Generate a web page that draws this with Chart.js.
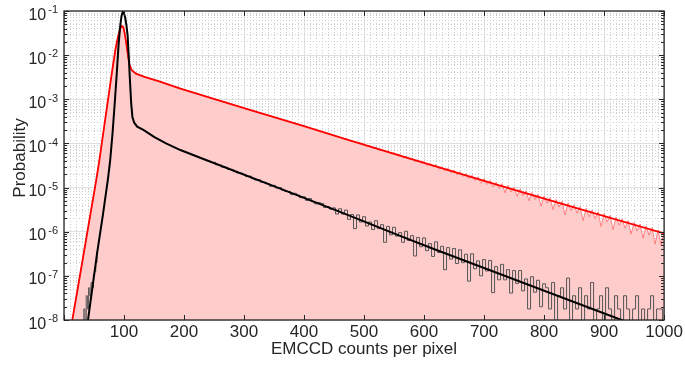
<!DOCTYPE html>
<html>
<head>
<meta charset="utf-8">
<script src="https://cdn.jsdelivr.net/npm/chart.js@4.4.0/dist/chart.umd.min.js"></script>
<style>
  html, body { margin: 0; padding: 0; background: #fff; }
</style>
</head>
<body>
<canvas id="histChart" width="685" height="367"></canvas>
<script>
'use strict'

// all y values as log10(probability)

// red: model curve
const redModelX = [12, 30, 53.5, 59, 70, 80, 86, 90, 93, 96, 98, 100, 103, 106, 109, 113, 120, 134, 160, 194, 228, 300, 400, 476, 600, 742, 850, 1000];
const redModelE = [-8.15, -6.72, -4.85, -4.38, -3.33, -2.38, -1.85, -1.58, -1.42, -1.34, -1.35, -1.42, -1.66, -1.95, -2.22, -2.34, -2.42, -2.49, -2.60, -2.76, -2.90, -3.20, -3.61, -3.93, -4.44, -5.02, -5.45, -6.04];

// red: measured histogram (filled), smooth part then the noisy tail
const redHeadX = [12, 30, 53.5, 59, 70, 80, 86, 90, 93, 96, 98, 100, 103, 106, 109, 113, 120, 134, 160, 194, 228, 300, 400, 476];
const redHeadE = [-8.15, -6.72, -4.85, -4.38, -3.33, -2.38, -1.85, -1.58, -1.42, -1.34, -1.35, -1.42, -1.66, -1.95, -2.22, -2.34, -2.42, -2.49, -2.60, -2.76, -2.90, -3.20, -3.61, -3.93];
const redTailStart = 500;
const redTailE = [
  -4.01, -4.07, -4.05, -4.11, -4.09, -4.16, -4.13, -4.19, -4.17, -4.24,
  -4.21, -4.28, -4.25, -4.33, -4.29, -4.36, -4.33, -4.41, -4.37, -4.45,
  -4.41, -4.50, -4.45, -4.53, -4.48, -4.58, -4.53, -4.62, -4.56, -4.66,
  -4.60, -4.71, -4.64, -4.75, -4.68, -4.80, -4.72, -4.84, -4.76, -4.90,
  -4.80, -4.93, -4.84, -4.99, -4.88, -5.02, -4.91, -5.12, -4.95, -5.10,
  -4.99, -5.20, -5.03, -5.18, -5.07, -5.30, -5.11, -5.27, -5.15, -5.42,
  -5.19, -5.35, -5.23, -5.50, -5.27, -5.44, -5.31, -5.62, -5.35, -5.52,
  -5.39, -5.58, -5.43, -5.75, -5.47, -5.66, -5.51, -5.70, -5.55, -5.88,
  -5.59, -5.78, -5.63, -5.95, -5.67, -5.85, -5.71, -5.92, -5.75, -6.05,
  -5.79, -5.98, -5.83, -6.15, -5.87, -6.08, -5.91, -6.28, -5.96, -6.30,
  -6.00
];

// black: model curve
const blackX = [40, 55, 65, 73, 77, 81, 85, 88, 91, 94, 96, 98, 100, 102, 104, 106, 108, 110, 112, 114, 117, 122, 133, 150, 170, 194, 228, 356, 460, 559, 614, 929, 1000];
const blackE = [-8.0, -6.5, -5.6, -4.83, -4.38, -3.75, -3.0, -2.4, -1.75, -1.3, -1.1, -1.02, -1.05, -1.15, -1.32, -1.55, -2.05, -2.6, -3.1, -3.4, -3.53, -3.62, -3.70, -3.85, -4.0, -4.15, -4.33, -5.0, -5.55, -6.09, -6.38, -8.0, -8.37];

// gray: measured histogram (-10 = empty bin); hidden under the black line between the two parts
const grayLeftX = [32, 34, 36, 38, 40, 42, 44, 46, 48, 50, 52, 54, 56];
const grayLeftE = [-10, -7.75, -10, -7.45, -7.75, -7.27, -7.45, -7.15, -7.27, -6.97, -6.9, -6.7, -6.45];
const grayTailStart = 250;
const grayTailE = [
  -4.43, -4.48, -4.49, -4.54, -4.54, -4.59, -4.59, -4.64, -4.67, -4.67,
  -4.70, -4.75, -4.74, -4.80, -4.83, -4.82, -4.88, -4.88, -4.91, -4.97,
  -4.95, -5.01, -5.00, -5.06, -5.09, -5.09, -5.16, -5.13, -5.17, -5.23,
  -5.21, -5.29, -5.25, -5.32, -5.37, -5.34, -5.36, -5.45, -5.43, -5.49,
  -5.46,
  -5.60, -5.48, -5.60, -5.51, -5.72, -5.61, -5.93, -5.62, -5.78, -5.66,
  -5.87, -5.78, -5.95, -5.75, -5.93, -5.84, -6.24, -5.88, -6.07, -5.90,
  -6.10, -6.02, -6.24, -5.99, -6.20, -6.09, -6.55, -6.13, -6.34, -6.14,
  -6.43, -6.27, -6.56, -6.23, -6.47, -6.33, -6.86, -6.36, -6.62, -6.38,
  -6.72, -6.41, -6.70, -6.51, -7.12, -6.50, -6.84, -6.66, -7.00, -6.63,
  -6.89, -6.65, -7.38, -6.79, -7.09, -6.74, -7.09, -6.86, -7.39, -6.88,
  -7.17, -6.88, -7.34, -7.07, -7.75, -7.02, -7.37, -7.10, -7.70, -7.18,
  -7.27, -7.75, -7.15, -10, -7.45, -7.27, -7.75, -7.05, -10, -7.45,
  -7.75, -7.27, -10, -7.45, -7.75, -7.15, -10, -7.75, -7.45, -10,
  -7.27, -7.75, -10, -7.45, -7.75, -10, -7.45, -7.75, -10, -7.75,
  -7.45, -10, -7.75, -10, -7.75, -7.45, -10, -7.75, -7.75, -10
];
const binWidth = 5;

const xTickLabels = ['100', '200', '300', '400', '500', '600', '700', '800', '900', '1000'];
const yDecades = [-8, -7, -6, -5, -4, -3, -2, -1];

const FONT = '"Liberation Sans", Arial, Helvetica, sans-serif';
const TEXT = '#262626';

function toPoints(xs, es) {
  return xs.map(function(x, i) { return {x: x, y: Math.pow(10, es[i])}; });
}
function tailPoints(start, es) {
  return es.map(function(e, i) { return {x: start + i * binWidth, y: Math.pow(10, e)}; });
}

const redModelPts = toPoints(redModelX, redModelE);
const redDataPts = toPoints(redHeadX, redHeadE).concat(tailPoints(redTailStart, redTailE));
const blackPts = toPoints(blackX, blackE);
const grayPts = toPoints(grayLeftX, grayLeftE)
  .concat([{x: 150, y: null}])
  .concat(tailPoints(grayTailStart, grayTailE));

function isDecade(v) {
  const l = Math.log10(v);
  return Math.abs(l - Math.round(l)) < 1e-6;
}

//frame, inward ticks and the y labels with exponents
const axesPlugin = {
  id: 'matlabAxes',
  afterDraw(chart) {
    const {ctx, chartArea: a, scales} = chart;
    ctx.save();
    ctx.strokeStyle = TEXT;
    ctx.lineWidth = 1;
    ctx.beginPath();
    scales.x.ticks.forEach(function(t) {
      if (t.value % 100 !== 0) return;
      const px = Math.round(scales.x.getPixelForValue(t.value)) + 0.5;
      ctx.moveTo(px, a.bottom); ctx.lineTo(px, a.bottom - 5);
      ctx.moveTo(px, a.top); ctx.lineTo(px, a.top + 5);
    });
    scales.y.ticks.forEach(function(t) {
      const py = Math.round(scales.y.getPixelForValue(t.value)) + 0.5;
      const len = isDecade(t.value) ? 5 : 3;
      ctx.moveTo(a.left, py); ctx.lineTo(a.left + len, py);
      ctx.moveTo(a.right, py); ctx.lineTo(a.right - len, py);
    });
    ctx.stroke();

    ctx.lineWidth = 1.3;
    ctx.strokeRect(a.left, a.top, a.right - a.left, a.bottom - a.top);

    ctx.fillStyle = TEXT;
    ctx.textBaseline = 'alphabetic';
    ctx.textAlign = 'right';
    yDecades.forEach(function(k) {
      const py = scales.y.getPixelForValue(Math.pow(10, k));
      const exp = '-' + (-k);
      ctx.font = '11px ' + FONT;
      const ew = ctx.measureText(exp).width;
      ctx.fillText(exp, 58, py + 2.3);
      ctx.font = '16px ' + FONT;
      ctx.fillText('10', 58 - ew - 2, py + 8.6);
    });

    ctx.translate(25, 158);
    ctx.rotate(-Math.PI / 2);
    ctx.textAlign = 'center';
    ctx.font = '17px ' + FONT;
    ctx.fillText('Probability', 0, 0);
    ctx.restore();
  }
};

const ctx = document.getElementById('histChart').getContext('2d');
const histChart = new Chart(ctx, {
  type: 'line',
  data: {
    datasets: [
      {label: 'model, EM', data: blackPts, borderColor: '#000000', borderWidth: 2, order: 1},
      {label: 'data, EM', data: grayPts, borderColor: '#555555', borderWidth: 1, stepped: 'middle', spanGaps: false, order: 2},
      {label: 'model', data: redModelPts, borderColor: '#ff0000', borderWidth: 1.8, order: 3},
      {label: 'data', data: redDataPts, borderColor: 'rgba(255,80,80,0.65)', borderWidth: 1,
        fill: 'start', backgroundColor: '#ffcccc', order: 4}
    ]
  },
  options: {
    responsive: false,
    animation: false,
    layout: {padding: {left: 0, top: 11, right: 19, bottom: 0}},
    elements: {point: {radius: 0}, line: {tension: 0}},
    plugins: {legend: {display: false}, tooltip: {enabled: false}},
    scales: {
      x: {
        type: 'linear', min: 0, max: 1000,
        afterBuildTicks: function(scale) {
          const t = [];
          for (let v = 0; v <= 1000; v += 10) t.push({value: v});
          scale.ticks = t;
        },
        afterFit: function(scale) { scale.height = 47; },
        ticks: {
          autoSkip: false, maxRotation: 0, padding: 2, color: TEXT,
          font: {family: FONT, size: 17},
          callback: function(v) {
            const i = xTickLabels.indexOf(String(v));
            return i >= 0 ? xTickLabels[i] : '';
          }
        },
        grid: {
          drawTicks: false,
          color: function(c) { return c.tick && c.tick.value % 100 === 0 ? '#e0e0e0' : '#cdcdcd'; }
        },
        border: {
          display: false,
          dash: function(c) { return c.tick && c.tick.value % 100 !== 0 ? [1, 2] : []; }
        },
        title: {display: true, text: 'EMCCD counts per pixel', color: TEXT,
          font: {family: FONT, size: 17}, padding: {top: 0, bottom: 7}}
      },
      y: {
        type: 'logarithmic', min: 1e-8, max: 1e-1,
        afterBuildTicks: function(scale) {
          const t = [];
          yDecades.forEach(function(k) {
            for (let m = 1; m <= 9; m++) t.push({value: m * Math.pow(10, k - 1)});
          });
          t.push({value: 1e-1});
          scale.ticks = t.filter(function(o) { return o.value >= 1e-8 * 0.999; });
        },
        afterFit: function(scale) { scale.width = 64; },
        ticks: {display: false},
        grid: {
          drawTicks: false,
          color: function(c) { return c.tick && isDecade(c.tick.value) ? '#e0e0e0' : '#cdcdcd'; }
        },
        border: {
          display: false,
          dash: function(c) { return c.tick && !isDecade(c.tick.value) ? [1, 2] : []; }
        }
      }
    }
  },
  plugins: [axesPlugin]
});
</script>
</body>
</html>
